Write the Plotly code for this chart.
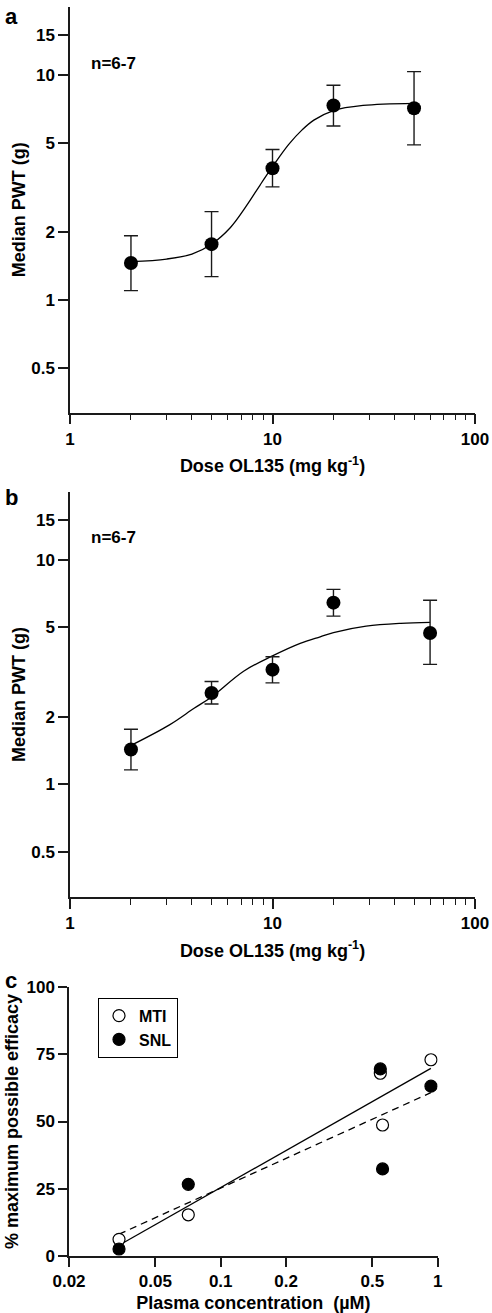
import plotly.graph_objects as go

W, H = 492, 1313

# ---------------- data ----------------
# Panel a
dose_a = [2, 5, 10, 20, 50]
pwt_a = [1.46, 1.77, 3.85, 7.31, 7.11]
pwt_a_hi = [1.93, 2.47, 4.66, 9.0, 10.35]
pwt_a_lo = [1.10, 1.27, 3.18, 5.93, 4.89]
fit_a_x = [2, 3, 4, 5, 6.2, 7.5, 8.7, 10, 12, 14, 16, 20, 28, 50]
fit_a_y = [1.48, 1.52, 1.60, 1.77, 2.10, 2.65, 3.25, 3.91, 4.9, 5.7, 6.3, 6.95, 7.32, 7.48]

# Panel b
dose_b = [2, 5, 10, 20, 60]
pwt_b = [1.43, 2.55, 3.24, 6.44, 4.72]
pwt_b_hi = [1.76, 2.87, 3.70, 7.38, 6.6]
pwt_b_lo = [1.16, 2.28, 2.83, 5.61, 3.42]
fit_b_x = [2, 3.1, 4.1, 5, 7.2, 10, 13.7, 17.2, 20, 29, 43, 60]
fit_b_y = [1.49, 1.84, 2.18, 2.45, 3.19, 3.73, 4.24, 4.54, 4.74, 5.06, 5.21, 5.26]

# Panel c
conc = [0.034, 0.0709, 0.544, 0.557, 0.931]
mti = [6.3, 15.4, 67.9, 48.7, 72.9]
snl = [2.7, 26.7, 69.5, 32.4, 63.1]
mti_fit_x = [0.034, 0.93]
mti_fit_y = [4.1, 69.7]
snl_fit_x = [0.034, 0.93]
snl_fit_y = [8.2, 60.7]

pwt_ticks = [0.5, 1, 2, 5, 10, 15]
dose_ticks = [1, 10, 100]
dose_minor = [2, 3, 4, 5, 6, 7, 8, 9, 20, 30, 40, 50, 60, 70, 80, 90]
conc_ticks = [0.02, 0.05, 0.1, 0.2, 0.5, 1]
eff_ticks = [0, 25, 50, 75, 100]

# ---------------- style ----------------
FAM = "Liberation Sans, Arial, sans-serif"
INK = "#1a1a1a"
tickfont = dict(family=FAM, size=17, color="black", weight="bold")
titlefont = dict(family=FAM, size=18, color="black", weight="bold")


def px_x(p):
    return p / W


def px_y(p):
    return 1 - p / H


axis_common = dict(showline=True, linecolor=INK, linewidth=1.5, ticks="outside",
                   tickwidth=1.5, tickcolor=INK, showgrid=False, zeroline=False,
                   tickfont=tickfont, mirror=False, automargin=False)

fig = go.Figure()

# panel a
fig.add_trace(go.Scatter(x=fit_a_x, y=fit_a_y, mode="lines", line=dict(color="black", width=1.3, shape="spline"),
                         xaxis="x", yaxis="y", showlegend=False, hoverinfo="skip"))
fig.add_trace(go.Scatter(
    x=dose_a, y=pwt_a, mode="markers", xaxis="x", yaxis="y", showlegend=False,
    marker=dict(color="black", size=14),
    error_y=dict(type="data", symmetric=False,
                 array=[h - m for h, m in zip(pwt_a_hi, pwt_a)],
                 arrayminus=[m - l for m, l in zip(pwt_a, pwt_a_lo)],
                 color=INK, thickness=1.4, width=7)))

# panel b
fig.add_trace(go.Scatter(x=fit_b_x, y=fit_b_y, mode="lines", line=dict(color="black", width=1.3, shape="spline"),
                         xaxis="x2", yaxis="y2", showlegend=False, hoverinfo="skip"))
fig.add_trace(go.Scatter(
    x=dose_b, y=pwt_b, mode="markers", xaxis="x2", yaxis="y2", showlegend=False,
    marker=dict(color="black", size=14),
    error_y=dict(type="data", symmetric=False,
                 array=[h - m for h, m in zip(pwt_b_hi, pwt_b)],
                 arrayminus=[m - l for m, l in zip(pwt_b, pwt_b_lo)],
                 color=INK, thickness=1.4, width=7)))

# panel c
fig.add_trace(go.Scatter(x=mti_fit_x, y=mti_fit_y, mode="lines", line=dict(color="black", width=1.3),
                         xaxis="x3", yaxis="y3", showlegend=False, hoverinfo="skip"))
fig.add_trace(go.Scatter(x=snl_fit_x, y=snl_fit_y, mode="lines", line=dict(color="black", width=1.3, dash="7px,5px"),
                         xaxis="x3", yaxis="y3", showlegend=False, hoverinfo="skip"))
fig.add_trace(go.Scatter(x=conc, y=mti, mode="markers", name="MTI", xaxis="x3", yaxis="y3",
                         marker=dict(color="white", size=12, line=dict(color="black", width=1.2))))
fig.add_trace(go.Scatter(x=conc, y=snl, mode="markers", name="SNL", xaxis="x3", yaxis="y3",
                         marker=dict(color="black", size=12, line=dict(color="black", width=1.2))))

# ---------------- layout ----------------
xa_dom = [px_x(70), px_x(475)]
ya_dom = [px_y(412.7), px_y(7)]
yb_dom = [px_y(897.3), px_y(491.7)]
xc_dom = [px_x(69), px_x(437.7)]
yc_dom = [px_y(1256.3), px_y(986.7)]

dose_title = dict(text="Dose OL135 (mg kg<sup>-1</sup>)", font=titlefont, standoff=12)
pwt_title = dict(text="Median PWT (g)", font=titlefont, standoff=1)

fig.update_layout(
    width=W, height=H, margin=dict(l=0, r=0, t=0, b=0, autoexpand=False),
    paper_bgcolor="white", plot_bgcolor="white",
    font=dict(family=FAM, color="black"),
    xaxis=dict(axis_common, type="log", domain=xa_dom, range=[0, 2], anchor="y",
               tickvals=dose_ticks, ticktext=[str(v) for v in dose_ticks], ticklen=10,
               minor=dict(ticks="outside", tickvals=dose_minor, ticklen=6, tickwidth=1.3, tickcolor=INK),
               title=dose_title),
    yaxis=dict(axis_common, type="log", domain=ya_dom, range=[-0.501, 1.302], anchor="x",
               tickvals=pwt_ticks, ticktext=[str(v) for v in pwt_ticks], ticklen=10,
               title=pwt_title),
    xaxis2=dict(axis_common, type="log", domain=xa_dom, range=[0, 2], anchor="y2",
                tickvals=dose_ticks, ticktext=[str(v) for v in dose_ticks], ticklen=10,
                minor=dict(ticks="outside", tickvals=dose_minor, ticklen=6, tickwidth=1.3, tickcolor=INK),
                title=dose_title),
    yaxis2=dict(axis_common, type="log", domain=yb_dom, range=[-0.503, 1.303], anchor="x2",
                tickvals=pwt_ticks, ticktext=[str(v) for v in pwt_ticks], ticklen=10,
                title=pwt_title),
    xaxis3=dict(axis_common, type="log", domain=xc_dom, range=[-1.699, 0], anchor="y3",
                tickvals=conc_ticks, ticktext=[str(v) for v in conc_ticks], ticklen=9,
                title=dict(text="Plasma concentration  (µM)", font=titlefont, standoff=10)),
    yaxis3=dict(axis_common, domain=yc_dom, range=[0, 100], anchor="x3",
                tickvals=eff_ticks, ticktext=[str(v) for v in eff_ticks], ticklen=9,
                title=dict(text="% maximum possible efficacy", font=titlefont, standoff=3)),
    legend=dict(x=px_x(98), y=px_y(997.7), xanchor="left", yanchor="top",
                bordercolor="black", borderwidth=1, bgcolor="white",
                font=dict(family=FAM, size=16, color="black", weight="bold"),
                itemwidth=30, tracegroupgap=0),
    annotations=[
        dict(text="a", x=px_x(3), y=px_y(16), xref="paper", yref="paper", xanchor="left", yanchor="middle",
             showarrow=False, font=dict(family=FAM, size=22, color="black", weight="bold")),
        dict(text="b", x=px_x(3), y=px_y(498), xref="paper", yref="paper", xanchor="left", yanchor="middle",
             showarrow=False, font=dict(family=FAM, size=22, color="black", weight="bold")),
        dict(text="c", x=px_x(3), y=px_y(980), xref="paper", yref="paper", xanchor="left", yanchor="middle",
             showarrow=False, font=dict(family=FAM, size=22, color="black", weight="bold")),
        dict(text="n=6-7", x=px_x(89), y=px_y(64), xref="paper", yref="paper", xanchor="left", yanchor="middle",
             showarrow=False, font=dict(family=FAM, size=17, color="black", weight="bold")),
        dict(text="n=6-7", x=px_x(89), y=px_y(537), xref="paper", yref="paper", xanchor="left", yanchor="middle",
             showarrow=False, font=dict(family=FAM, size=17, color="black", weight="bold")),
    ],
)

fig.write_html("out.html", config={"displayModeBar": False},
               post_script="document.body.style.margin='0';document.body.style.overflow='hidden';")
